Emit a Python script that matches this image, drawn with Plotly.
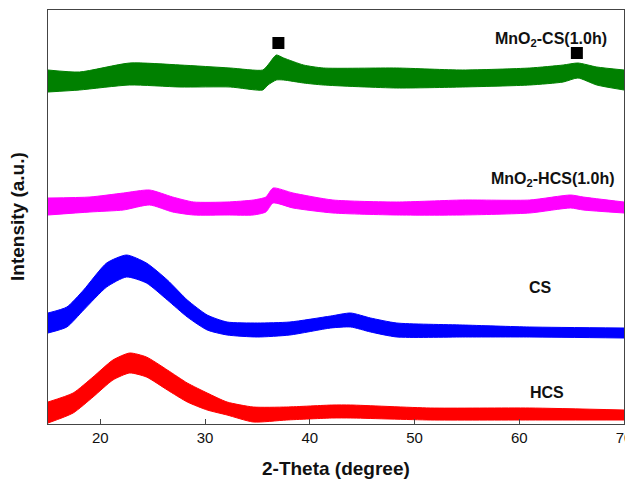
import plotly.graph_objects as go

# ---- data (2-theta in degrees, intensity in a.u.) ----
# Each noisy pattern is described by its upper and lower envelope.
theta_cs_mno2 = [15, 18, 22.8, 27.6, 32.4, 35.5, 36.0, 36.8, 37.5, 39.4, 41.3,
                 48.3, 54.6, 61, 64.2, 65.6, 67.4, 70]
cs_mno2_top = [354, 352, 361, 359, 356, 354, 359, 369, 366, 359, 356,
               356, 354, 356, 359, 361, 357, 354]
cs_mno2_bot = [332, 334, 339, 337, 337, 334, 339, 344, 344, 341, 339,
               336, 337, 339, 342, 346, 339, 334]

theta_hcs_mno2 = [15, 19, 22.2, 24.7, 26.9, 28.9, 32.1, 34.6, 35.8, 36.5, 38.4,
                  42.2, 48.3, 54.6, 61, 64.9, 66.1, 70]
hcs_mno2_top = [226, 227, 231, 234, 227, 222, 222, 224, 227, 236, 231,
                224, 222, 224, 224, 229, 227, 222]
hcs_mno2_bot = [209, 212, 214, 219, 212, 209, 209, 209, 212, 221, 216,
                211, 209, 209, 211, 216, 214, 211]

theta_cs = [15, 16.8, 18.4, 20.6, 22.5, 24.4, 26.4, 28.3, 30.2, 32.1, 35,
            38.1, 42, 43.9, 45.8, 48.3, 54.6, 61, 70]
cs_top = [111, 117, 134, 161, 169, 161, 144, 124, 109, 102, 101,
          102, 108, 111, 106, 101, 99, 97, 96]
cs_bot = [91, 97, 114, 137, 147, 141, 124, 107, 94, 89, 87,
          89, 96, 97, 92, 87, 87, 87, 86]

theta_hcs = [15, 17.4, 19.3, 21.2, 22.8, 24.4, 26.4, 28.3, 30.2, 32.1, 34.6,
             37.8, 42.2, 43.9, 51.5, 61, 70]
hcs_top = [22, 31, 47, 64, 71, 67, 54, 41, 31, 22, 17,
           17, 19, 19, 16, 16, 14]
hcs_bot = [1, 11, 27, 44, 51, 47, 34, 22, 14, 9, 2,
           4, 6, 6, 4, 4, 4]

# MnO2 reflection markers
marker_theta = [37.0, 65.5]
marker_int = [381, 371]

x_ticks = [20, 30, 40, 50, 60, 70]

series = [
    ("MnO<sub>2</sub>-CS(1.0h)", theta_cs_mno2, cs_mno2_top, cs_mno2_bot, "#008000"),
    ("MnO<sub>2</sub>-HCS(1.0h)", theta_hcs_mno2, hcs_mno2_top, hcs_mno2_bot, "#ff00ff"),
    ("CS", theta_cs, cs_top, cs_bot, "#0000ff"),
    ("HCS", theta_hcs, hcs_top, hcs_bot, "#ff0000"),
]

label_pos = {
    "MnO<sub>2</sub>-CS(1.0h)": (63.0, 385),
    "MnO<sub>2</sub>-HCS(1.0h)": (63.2, 245),
    "CS": (62.0, 137),
    "HCS": (62.6, 32),
}

FONT = "Liberation Sans, Arial, sans-serif"

fig = go.Figure()
for name, th, top, bot, col in series:
    fig.add_trace(go.Scatter(x=th, y=bot, mode="lines",
                             line=dict(color=col, width=1, shape="spline", smoothing=0.6),
                             showlegend=False, hoverinfo="skip"))
    fig.add_trace(go.Scatter(x=th, y=top, mode="lines",
                             line=dict(color=col, width=1, shape="spline", smoothing=0.6),
                             fill="tonexty", fillcolor=col, showlegend=False, name=name))

fig.add_trace(go.Scatter(x=marker_theta, y=marker_int, mode="markers",
                         marker=dict(symbol="square", size=12, color="black"),
                         showlegend=False))

for name, (lx, ly) in label_pos.items():
    fig.add_annotation(x=lx, y=ly, xref="x", yref="y", text="<b>" + name + "</b>",
                       showarrow=False, font=dict(family=FONT, size=16, color="#111"))

fig.add_annotation(x=0.5, y=0, xref="paper", yref="paper", yanchor="middle", yshift=-44,
                   text="<b>2-Theta (degree)</b>", showarrow=False,
                   font=dict(family=FONT, size=19, color="#111"))
fig.add_annotation(x=0, y=0.5, xref="paper", yref="paper", xanchor="center", xshift=-31,
                   text="<b>Intensity (a.u.)</b>", textangle=-90, showarrow=False,
                   font=dict(family=FONT, size=19, color="#111"))

# the page body has an 8px margin, so the figure is sized/offset to fit the window exactly
fig.update_layout(
    width=625, height=472,
    margin=dict(l=40, r=9, t=2, b=56),
    paper_bgcolor="white", plot_bgcolor="white",
    font=dict(family=FONT, size=15, color="#111"),
    xaxis=dict(range=[15, 70], tickvals=x_ticks, ticks="inside", ticklen=5,
               tickcolor="#444", showline=True, linecolor="#444", linewidth=1.2, mirror=True,
               showgrid=False, zeroline=False, ticklabeloverflow="allow",
               tickfont=dict(size=15, color="#111")),
    yaxis=dict(range=[0, 414], showticklabels=False, ticks="", showline=True, linecolor="#444",
               linewidth=1.2, mirror=True, showgrid=False, zeroline=False),
)

fig.write_html("out.html")
